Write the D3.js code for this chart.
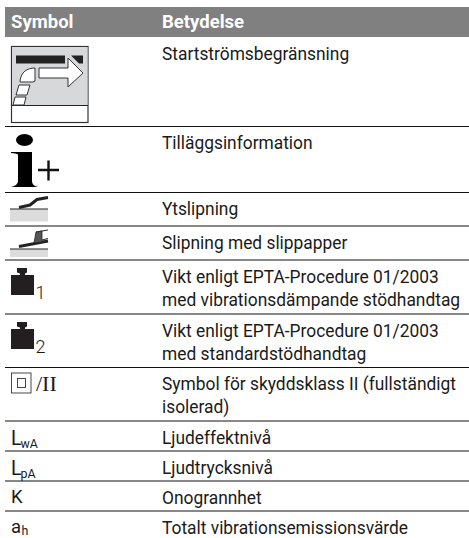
<!DOCTYPE html>
<html>
<head>
<meta charset="utf-8">
<script src="https://cdn.jsdelivr.net/npm/d3@7"></script>
<style>
  html, body { margin: 0; padding: 0; background: #fff; }
  text { font-family: 'Roboto', sans-serif; fill: #1a1a1a; }
</style>
</head>
<body>
<div id="chart"></div>
<script>
const headers = ['Symbol', 'Betydelse']

const meanings = [
  ['Startströmsbegränsning'],
  ['Tilläggsinformation'],
  ['Ytslipning'],
  ['Slipning med slippapper'],
  ['Vikt enligt EPTA-Procedure 01/2003', 'med vibrationsdämpande stödhandtag'],
  ['Vikt enligt EPTA-Procedure 01/2003', 'med standardstödhandtag'],
  ['Symbol för skyddsklass II (fullständigt', 'isolerad)'],
  ['Ljudeffektnivå'],
  ['Ljudtrycksnivå'],
  ['Onogrannhet'],
  ['Totalt vibrationsemissionsvärde']
]

const symbolTypes = ['limit', 'info', 'surface', 'paper', 'weight', 'weight', 'classII', 'text', 'text', 'text', 'text']
const symbolMain = ['', '', '', '', '1', '2', '', 'L', 'L', 'K', 'a']
const symbolSub = ['', '', '', '', '', '', '', 'wA', 'pA', '', 'h']

const rowHeights = [89.5, 66, 33.5, 34, 54, 53.5, 53.5, 30, 30, 30, 27]

const width = 469
const height = 538
const margin = { top: 7, left: 5, header: 30 }
const col1 = 11
const col2 = 162
const squeeze = 0.965

const svg = d3
  .select('#chart')
  .append('svg')
  .attr('width', width)
  .attr('height', height)
  .style('display', 'block')

// header band
svg.append('rect')
  .attr('x', margin.left)
  .attr('y', margin.top)
  .attr('width', width - margin.left)
  .attr('height', margin.header)
  .attr('fill', '#808080')

svg.selectAll('.head')
  .data(headers)
  .enter()
  .append('text')
  .attr('class', 'head')
  .attr('x', (d, i) => i === 0 ? col1 : col2)
  .attr('y', 28)
  .attr('font-size', 18.5)
  .attr('font-weight', 700)
  .style('fill', '#fff')
  .text(d => d)

// row tops come from the heights
const tops = [margin.top + margin.header]
rowHeights.forEach(h => tops.push(tops[tops.length - 1] + h))

const rows = svg.selectAll('.row')
  .data(meanings)
  .enter()
  .append('g')
  .attr('class', 'row')
  .attr('transform', (d, i) => 'translate(0,' + tops[i] + ')')

// separators, none under the last row
rows.filter((d, i) => i < meanings.length - 1)
  .append('line')
  .attr('x1', margin.left)
  .attr('x2', width)
  .attr('y1', (d, i) => rowHeights[i])
  .attr('y2', (d, i) => rowHeights[i])
  .attr('stroke', '#111')
  .attr('stroke-width', 1)

rows.selectAll('.meaning')
  .data(d => d)
  .enter()
  .append('text')
  .attr('class', 'meaning')
  .attr('transform', (d, i) => 'translate(' + col2 + ',' + (22.5 + i * 23) + ') scale(' + squeeze + ',1)')
  .attr('font-size', 18)
  .text(d => d)

// symbols
rows.each(function (d, i) {
  const g = d3.select(this)
  const type = symbolTypes[i]
  if (type === 'limit') drawLimit(g)
  if (type === 'info') drawInfo(g)
  if (type === 'surface') drawSurface(g)
  if (type === 'paper') drawPaper(g)
  if (type === 'weight') drawWeight(g, symbolMain[i])
  if (type === 'classII') drawClass(g)
  if (type === 'text') {
    const isL = symbolMain[i] === 'L'
    g.append('text')
      .attr('x', col1)
      .attr('y', isL ? 23.5 : 22)
      .attr('font-size', isL ? 19.5 : 18.5)
      .text(symbolMain[i])
    g.append('text')
      .attr('x', isL ? 20.5 : 21.5)
      .attr('y', isL ? 26.5 : 24)
      .attr('font-size', 12.4)
      .text(symbolSub[i])
  }
})

function drawLimit (g) {
  g.append('rect').attr('x', 11.5).attr('y', 9.5).attr('width', 76.5).attr('height', 76)
    .attr('fill', '#fff').attr('stroke', '#333').attr('stroke-width', 1.2)
  g.append('rect').attr('x', 12).attr('y', 10).attr('width', 75.5).attr('height', 58.5)
    .attr('fill', '#d6d8d9')
  g.append('line').attr('x1', 12).attr('x2', 88).attr('y1', 68.5).attr('y2', 68.5)
    .attr('stroke', '#222').attr('stroke-width', 1)
  g.append('rect').attr('x', 16).attr('y', 18.5).attr('width', 49).attr('height', 8).attr('fill', '#222')
  g.append('path').attr('d', 'M71 18.5H83V26.5H79Z').attr('fill', '#222')
  // arrow
  g.append('path')
    .attr('d', 'M39 31H68V21L83 36L68 50V41H39Z')
    .attr('fill', '#fff').attr('stroke', '#333').attr('stroke-width', 1)
  // hand pieces
  g.append('path')
    .attr('d', 'M20 44C21 35 27 31 35 31V44L33 45H20Z')
    .attr('fill', '#fff').attr('stroke', '#333').attr('stroke-width', 1)
  g.append('path').attr('d', 'M19 48H30L27 58H16Z')
    .attr('fill', '#fff').attr('stroke', '#333').attr('stroke-width', 1)
  g.append('path').attr('d', 'M15 60H26L24 68H13Z')
    .attr('fill', '#fff').attr('stroke', '#333').attr('stroke-width', 1)
}

function drawInfo (g) {
  g.append('ellipse').attr('cx', 24.5).attr('cy', 13.5).attr('rx', 8.5).attr('ry', 6).attr('fill', '#000')
  g.append('path')
    .attr('d', 'M11 25.5H32V54C32 58 34 59.5 38 60.5H11C15 59.5 18 58 18 54V28C17 27 14 27 11 26.5Z')
    .attr('fill', '#000')
  g.append('path')
    .attr('d', 'M38 43.5H59M48.5 34V54')
    .attr('stroke', '#111').attr('stroke-width', 2.4).attr('fill', 'none')
}

function drawSurface (g) {
  g.append('rect').attr('x', 10).attr('y', 16.5).attr('width', 38).attr('height', 12.5).attr('fill', '#dcdcdc')
  g.append('line').attr('x1', 10).attr('x2', 48).attr('y1', 16.5).attr('y2', 16.5).attr('stroke', '#222').attr('stroke-width', 1)
  g.append('path')
    .attr('d', 'M19 15L30 12.5L37 7L48 5')
    .attr('stroke', '#222').attr('stroke-width', 3).attr('fill', 'none')
}

function drawPaper (g) {
  g.append('rect').attr('x', 10).attr('y', 23).attr('width', 38).attr('height', 8).attr('fill', '#dcdcdc')
  g.append('line').attr('x1', 10).attr('x2', 48).attr('y1', 23).attr('y2', 23).attr('stroke', '#222').attr('stroke-width', 1)
  g.append('path')
    .attr('d', 'M19 20.5L48 15')
    .attr('stroke', '#222').attr('stroke-width', 3).attr('fill', 'none')
  g.append('path')
    .attr('d', 'M34 17L36 6L42 5V16Z')
    .attr('fill', '#555').attr('stroke', '#222').attr('stroke-width', 0.8)
  g.append('path')
    .attr('d', 'M36 6L48 4M42 14L48 12.5')
    .attr('stroke', '#333').attr('stroke-width', 1.2).attr('fill', 'none')
}

function drawWeight (g, label) {
  g.append('path')
    .attr('d', 'M17 8H27V12.5L25 13.5V15H34V35H11V15H20V13.5L17 12.5Z')
    .attr('fill', '#231f20')
  g.append('text')
    .attr('x', 35.5)
    .attr('y', 39)
    .attr('font-size', 18)
    .attr('font-weight', 300)
    .text(label)
}

function drawClass (g) {
  g.append('rect').attr('x', 11.5).attr('y', 5.5).attr('width', 19.5).attr('height', 20)
    .attr('fill', 'none').attr('stroke', '#333').attr('stroke-width', 0.9)
  g.append('rect').attr('x', 17.5).attr('y', 11).attr('width', 8).attr('height', 9)
    .attr('fill', 'none').attr('stroke', '#333').attr('stroke-width', 0.9)
  g.append('text')
    .attr('x', 36)
    .attr('y', 23)
    .attr('font-size', 22)
    .style('font-family', "'Liberation Serif', serif")
    .text('/II')
}
</script>
</body>
</html>
